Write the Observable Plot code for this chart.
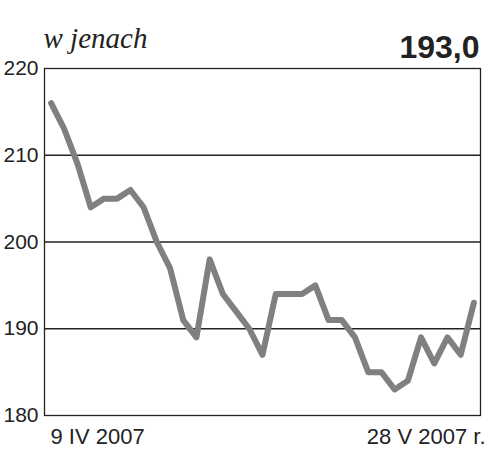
<!DOCTYPE html>
<html>
<head>
<meta charset="utf-8">
<script src="https://cdn.jsdelivr.net/npm/d3@7"></script>
<script src="https://cdn.jsdelivr.net/npm/@observablehq/plot@0.6"></script>
<style>
  html, body { margin: 0; padding: 0; background: #fff; }
  #chart svg { display: block; }
</style>
</head>
<body>
<div id="chart"></div>
<script>
// Daily JPY values, 9 IV 2007 – 28 V 2007
const values = [216, 213, 209, 204, 205, 205, 206, 204, 200, 197, 191, 189, 198, 194, 192, 190, 187,
                194, 194, 194, 195, 191, 191, 189, 185, 185, 183, 184, 189, 186, 189, 187, 193];
const yTicks = [180, 190, 200, 210, 220];
const gridValues = [190, 200, 210];
const startLabel = "9 IV 2007";
const endLabel = "28 V 2007 r.";
const unitLabel = "w jenach";
const lastValueLabel = "193,0";

const data = values.map((v, i) => ({i, v}));
const n = values.length;

const chart = Plot.plot({
  width: 500,
  height: 464,
  marginLeft: 44,
  marginRight: 20,
  marginTop: 68,
  marginBottom: 49,
  style: {fontFamily: "Liberation Sans, Arial, sans-serif", color: "#222", background: "#fff"},
  x: {domain: [-0.5, n - 0.5], axis: null},
  y: {domain: [180, 220]},
  marks: [
    Plot.ruleY(gridValues, {stroke: "#222", strokeWidth: 1.3}),
    Plot.frame({stroke: "#222", strokeWidth: 1.3}),
    Plot.axisY({ticks: yTicks, tickSize: 0, tickPadding: 6, fontSize: 21, label: null, tickFormat: d => String(d)}),
    Plot.line(data, {x: "i", y: "v", stroke: "#808080", strokeWidth: 6, strokeLinejoin: "round", strokeLinecap: "round"}),
    Plot.text([startLabel], {frameAnchor: "bottom-left", text: d => d, textAnchor: "start", lineAnchor: "bottom", dx: 6, dy: 28, fontSize: 22, fill: "#222"}),
    Plot.text([endLabel], {frameAnchor: "bottom-right", text: d => d, textAnchor: "end", lineAnchor: "bottom", dx: 5, dy: 28, fontSize: 22, fill: "#222"}),
    Plot.text([unitLabel], {frameAnchor: "top-left", text: d => d, textAnchor: "start", lineAnchor: "bottom", dx: -1, dy: -21, fontSize: 29, fontStyle: "italic", fontFamily: "Liberation Serif, serif", fill: "#222"}),
    Plot.text([lastValueLabel], {frameAnchor: "top-right", text: d => d, textAnchor: "end", lineAnchor: "bottom", dx: -1, dy: -11, fontSize: 32, fontWeight: "bold", fill: "#222"})
  ]
});
document.getElementById("chart").appendChild(chart);
</script>
</body>
</html>
